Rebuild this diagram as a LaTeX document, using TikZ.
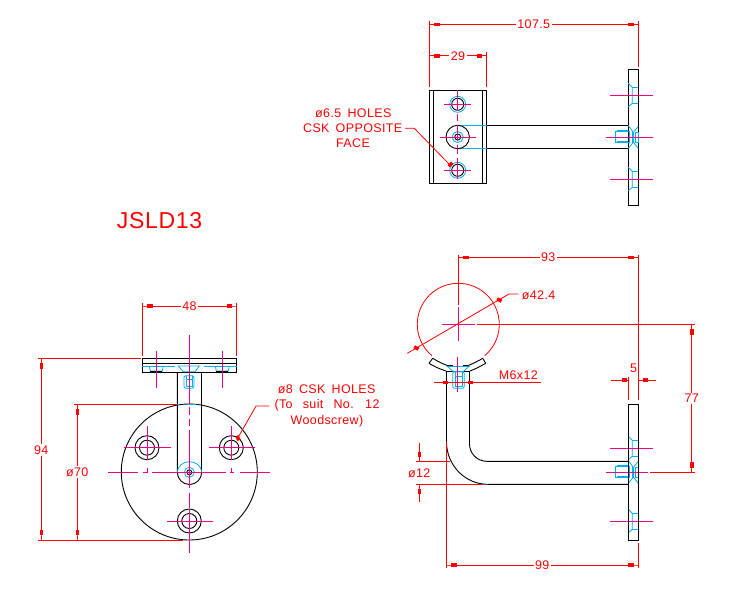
\documentclass[tikz,border=0pt]{standalone}
\usepackage{fontspec}
\usetikzlibrary{arrows.meta}
\newfontfamily\cadfont[LetterSpace=3,WordSpace=1.6]{Liberation Sans}
\tikzset{
  dimtip/.tip={Square[length=5pt,width=3.4pt] Square[length=5pt,width=.8pt]},
  part/.style={draw=black,line width=.9pt},
  hidden/.style={draw=cyan,line width=.8pt},
  centre/.style={draw=magenta,line width=.8pt},
  ext/.style={draw=red,line width=.8pt},
  dim/.style={ext,{dimtip}-{dimtip}},
  dimbox/.style={fill=red,inner sep=0pt,minimum width=5pt,minimum height=3.4pt},
  dimtext/.style={text=red,fill=white,inner sep=1.5pt,font=\cadfont\fontsize{12.5}{15}\selectfont},
  notetext/.style={text=red,inner sep=0pt,font=\cadfont\fontsize{12.5}{15}\selectfont}
}
\begin{document}
\begin{tikzpicture}[x=1pt,y=-1pt]
\path[use as bounding box,fill=white] (0,0) rectangle (753,598);
\node[text=red,inner sep=0pt,font=\cadfont\fontsize{23}{26}\selectfont] (title) at (159.5,221) {JSLD13};
% top view
\draw[part] (429.3,90.3) rectangle (486.7,183.7);
\draw[part] (433.3,90.3) -- (433.3,183.7);
\draw[part] (482.7,90.3) -- (482.7,183.7);
\draw[part] (628.3,69.3) rectangle (638.3,205.3);
\draw[part] (486.7,125.3) -- (628.3,125.3);
\draw[part] (486.7,148.3) -- (628.3,148.3);
\draw[hidden] (457.7,125.3) -- (486.7,125.3);
\draw[hidden] (457.7,148.3) -- (486.7,148.3);
\foreach \yc in {104.3,170.3}{
  \draw[hidden] (457.7,\yc) circle (8);
  \draw[part] (457.7,\yc) circle (6);
  \draw[centre] (444.3,\yc) -- (471,\yc);
}
\draw[part] (457.7,137) circle (11.7);
\draw[hidden] (457.7,137) circle (5.5);
\draw[part] (457.7,137) circle (3);
\draw[centre] (440,137) -- (476,137);
\draw[centre] (457.7,90) -- (457.7,110.7);
\draw[centre] (457.7,114) -- (457.7,121);
\draw[centre] (457.7,124.5) -- (457.7,141);
\draw[centre] (457.7,144.5) -- (457.7,154);
\draw[centre] (457.7,157.5) -- (457.7,179);
% plate screws, top and side views
\foreach \yc in {95.3,179.3,448.3,521.3}{
  \draw[hidden] (628.3,\yc-12) -- (632.3,\yc-8) -- (632.3,\yc+8) -- (628.3,\yc+11.5);
  \draw[hidden] (632.3,\yc-8) -- (638.3,\yc-8);
  \draw[hidden] (632.3,\yc+8) -- (638.3,\yc+8);
  \draw[centre] (610,\yc) -- (652.7,\yc);
}
\foreach \yc in {137.3,472.3}{
  \draw[hidden] (615.5,\yc-5.5) rectangle (629,\yc+5.5);
  \draw[hidden] (617.3,\yc-6.5) -- (628.3,\yc-6.5);
  \draw[hidden] (617.3,\yc+4.5) -- (628.3,\yc+4.5);
  \draw[hidden] (628.3,\yc-12) -- (632.5,\yc-6) -- (632.5,\yc+6) -- (628.3,\yc+11);
  \draw[hidden] (638.3,\yc-11) -- (633.5,\yc-5) -- (633.5,\yc+5) -- (638.3,\yc+11);
  \draw[hidden] (635.7,\yc-5) rectangle (638.3,\yc+5);
}
\draw[centre] (606,137.3) -- (653,137.3);
\draw[centre] (606,472.3) -- (648,472.3);
\draw[ext] (429.3,21) -- (429.3,87.3);
\draw[ext] (638.3,21) -- (638.3,66.7);
\draw[ext] (486.7,51.7) -- (486.7,87.3);
\draw[dim] (429.3,24.3) -- (638.3,24.3) node[dimtext,midway] (d1075) {107.5};
\draw[dim] (429.3,55.7) -- (486.7,55.7) node[dimtext,midway] (d29) {29};
\node[notetext] (holes1) at (353.3,113.7) {ø6.5 HOLES};
\node[notetext] (holes2) at (352.7,128.3) {CSK OPPOSITE};
\node[notetext] (holes3) at (353,143) {FACE};
\draw[ext] (405,128.3) -- (414.3,128.3) -- (450,165);
\node[dimbox,rotate=45] (b1) at (450.5,164.5) {};
% front view
\draw[part] (189.3,472) circle (68);
\draw[part] (142.3,358.3) rectangle (236.7,372.7);
\draw[part] (142.3,363.3) -- (236.7,363.3);
\draw[part] (177.3,372.7) -- (177.3,472.3) arc (180:0:12.2);
\draw[part] (201.7,372.7) -- (201.7,472.3);
\foreach \xc/\yc in {147/447.7,231.3/447.7,189.3/521}{
  \draw[part] (\xc,\yc) circle (12);
  \draw[part] (\xc,\yc) circle (7.5);
}
\draw[hidden] (142.3,366) -- (175,366);
\draw[hidden] (203.7,366) -- (236.7,366);
\foreach \xc in {156.3,222.3}{
  \draw[hidden] (\xc-7,366) -- (\xc-6,371) -- (\xc+6,371) -- (\xc+7,366);
  \draw[part,line width=.6pt] (\xc-6,371.3) -- (\xc+6,371.3);
  \draw[centre] (\xc,351) -- (\xc,387.7);
}
\draw[hidden] (178.3,366) -- (183.3,371.7) -- (195,371.7) -- (199.3,366) -- cycle;
\draw[hidden,rounded corners=1.5pt] (184,375.7) rectangle (194,388.3);
\draw[hidden] (186,375.7) -- (186,386.3) -- (192,386.3) -- (192,375.7);
\draw[hidden] (186,379) -- (192,379);
\draw[hidden] (177.3,404.3) -- (179,404.3);
\draw[hidden] (187,404.3) -- (196,404.3);
\draw[hidden] (177.3,472.3) arc (180:360:12.2 and 10.6);
\draw[hidden] (189.3,472.3) circle (5);
\draw[part] (189.3,472.3) circle (2.5);
\draw[centre] (124.3,447.7) -- (170.7,447.7);
\draw[centre] (209.3,447.7) -- (255,447.7);
\draw[centre] (167.3,521) -- (212.7,521);
\foreach \xc in {147,231.3}{
  \draw[centre] (\xc,426) -- (\xc,460);
  \draw[centre] (\xc,468) -- (\xc,472.3);
}
\draw[centre] (108,472.3) -- (138.3,472.3);
\draw[centre] (142.5,472.3) -- (148,472.3);
\draw[centre] (152,472.3) -- (226,472.3);
\draw[centre] (230,472.3) -- (234,472.3);
\draw[centre] (240,472.3) -- (270,472.3);
\draw[centre] (189.3,335) -- (189.3,404);
\draw[centre] (189.3,407) -- (189.3,415);
\draw[centre] (189.3,419) -- (189.3,426);
\draw[centre] (189.3,430) -- (189.3,488);
\draw[centre] (189.3,493) -- (189.3,508);
\draw[centre] (189.3,510) -- (189.3,553);
\draw[ext] (142.3,303.3) -- (142.3,355.7);
\draw[ext] (236.7,303.3) -- (236.7,355.7);
\draw[dim] (142.3,306) -- (236.7,306) node[dimtext,midway] (d48) {48};
\draw[ext] (38.3,358.3) -- (140.7,358.3);
\draw[ext] (38.3,540) -- (183,540);
\draw[ext] (74.3,404.3) -- (176.7,404.3);
\draw[dim] (41.3,358.3) -- (41.3,540) node[dimtext,pos=.506] (d94) {94};
\draw[dim] (77.3,404.3) -- (77.3,540) node[dimtext,midway] (d70) {ø70};
\node[notetext] (csk1) at (326.7,389) {ø8 CSK HOLES};
\node[notetext] (csk2) at (327,405.3) {(To\hspace{4pt} suit\hspace{4pt} No.\hspace{4pt} 12};
\node[notetext] (csk3) at (327,421.7) {Woodscrew)};
\draw[ext] (269.3,406) -- (256,406) -- (236.7,440);
\node[dimbox,rotate=-60] (b2) at (238,438) {};
% side view
\draw[part] (628.3,404.3) rectangle (638.3,540.3);
\draw[part] (446.5,371) -- (446.5,441.7) arc (180:90:41.3 and 42.6) -- (628.3,484.3);
\draw[part] (469.5,371) -- (469.5,444) arc (180:90:17.3) -- (628.3,461.3);
\draw[part] (432.7,358.3) .. controls (438,361.5) and (443,364) .. (448,365.7);
\draw[part] (429,363.3) .. controls (434,366.5) and (440,369) .. (446,371);
\draw[part] (482.7,358.3) .. controls (477.5,361.5) and (473,363.5) .. (468.3,365.5);
\draw[part] (485.7,363.3) .. controls (480.5,366.5) and (475,369) .. (470,371);
\draw[part] (432.7,358.3) -- (429,363.3);
\draw[part] (482.7,358.3) -- (485.7,363.3);
\draw[part] (448,365.7) -- (453,365.7);
\draw[part] (463,365.7) -- (468.3,365.5);
\draw[part] (446,371) -- (470,371);
\draw[hidden] (447.5,366.5) -- (453.5,371.7) -- (463,371.7) -- (469,366.5) -- cycle;
\draw[hidden,rounded corners=1.5pt] (452.7,371.7) rectangle (464.3,388.3);
\draw[hidden] (455,371.7) -- (455,386.5) -- (462.3,386.5) -- (462.3,371.7);
\draw[hidden] (455,376.5) -- (462.3,376.5);
\draw[centre] (457.5,357) -- (457.5,392);
\draw[centre] (442.3,324.3) -- (475,324.3);
\draw[centre] (458.3,306.7) -- (458.3,341);
\draw[ext] (458.3,324.3) ++(130:41) arc (130:410:41);
\draw[ext] (458.3,255) -- (458.3,305);
\draw[ext] (638.3,255) -- (638.3,400);
\draw[dim] (458.3,257.3) -- (638.3,257.3) node[dimtext,midway] (d93) {93};
\draw[ext] (477.3,324.3) -- (695,324.3);
\draw[ext] (650,472.3) -- (695,472.3);
\draw[dim] (691.7,324.3) -- (691.7,472.3) node[dimtext,midway] (d77) {77};
\draw[ext] (407.3,353.3) -- (509,294) -- (518.3,294);
\node[dimbox,rotate=-30] (b3) at (416.3,348) {};
\node[dimbox,rotate=-30] (b4) at (499.3,300) {};
\node[notetext,anchor=west] (d424) at (521.7,295) {ø42.4};
\draw[ext] (628.3,376.7) -- (628.3,400);
\draw[ext] (611,380) -- (628.3,380);
\draw[ext] (638.3,380) -- (656,380);
\node[dimbox] (b5) at (624.5,380) {};
\node[dimbox] (b6) at (645.5,380) {};
\node[notetext] (d5) at (633.5,368) {5};
\draw[ext] (434,382.3) -- (541,382.3);
\node[dimbox] (b7) at (445.5,382.3) {};
\node[dimbox] (b8) at (470.5,382.3) {};
\node[notetext] (m6) at (518.3,375) {M6x12};
\draw[ext] (446.3,441.7) -- (446.3,568.3);
\draw[ext] (638.3,543.3) -- (638.3,568.3);
\draw[dim] (446.3,565) -- (638.3,565) node[dimtext,midway] (d99) {99};
\draw[ext] (416,461.3) -- (450,461.3);
\draw[ext] (416,484.3) -- (483,484.3);
\draw[ext] (419.3,443.3) -- (419.3,461.3);
\draw[ext] (419.3,484.3) -- (419.3,502.3);
\node[dimbox,rotate=90] (b9) at (419.3,454.3) {};
\node[dimbox,rotate=90] (b10) at (419.3,491.3) {};
\node[notetext] (d12) at (419.3,473.3) {ø12};
\end{tikzpicture}
\end{document}
